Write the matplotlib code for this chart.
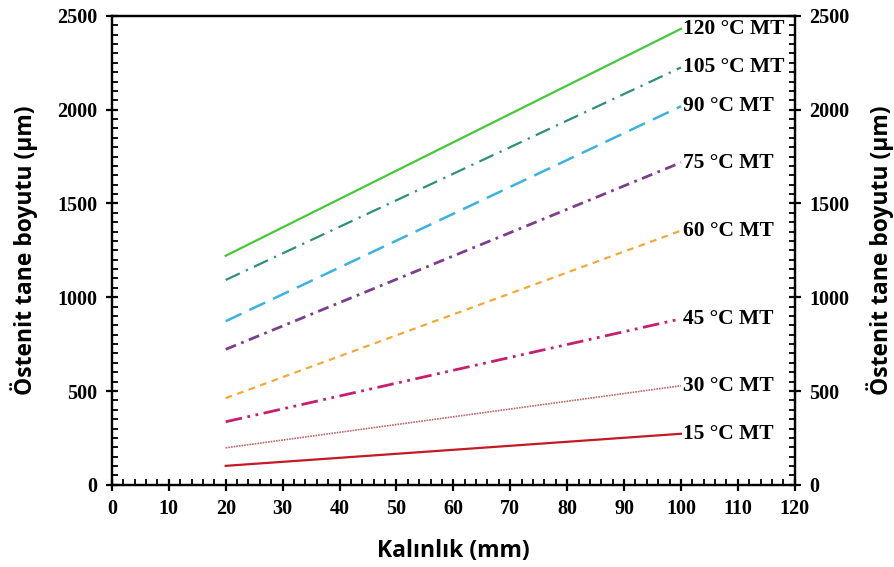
import matplotlib
matplotlib.use("agg")
import matplotlib.pyplot as plt
from matplotlib.ticker import MultipleLocator

# thickness (mm) and grain size (um) at both ends of each line
kalinlik = [20, 100]
etiketler = ["15 °C MT", "30 °C MT", "45 °C MT", "60 °C MT",
             "75 °C MT", "90 °C MT", "105 °C MT", "120 °C MT"]
baslangic = [101, 197, 336, 462, 722, 872, 1092, 1221]
bitis = [272, 528, 885, 1355, 1718, 2018, 2225, 2431]

renkler = ["#c41a25", "#b86a6a", "#c4206e", "#f2a93a",
           "#7b3f8c", "#3cb3dd", "#2f8f7a", "#44c93a"]
cizgiler = ["-", (0, (1, 0.6)), (0, (6, 2, 1, 2, 1, 2)), (0, (3, 2.5)),
            (0, (4, 2, 1, 2)), (0, (7, 3.5)), (0, (7, 3, 1, 3)), "-"]
kalin = [1.6, 1.2, 2.0, 1.6, 2.0, 1.8, 1.6, 1.6]

fig = plt.figure(figsize=(8.95, 5.67), dpi=100)
ax = fig.add_axes([0.125, 0.145, 0.763, 0.827])

for i in range(len(etiketler)):
    ax.plot(kalinlik, [baslangic[i], bitis[i]], color=renkler[i],
            linestyle=cizgiler[i], linewidth=kalin[i])
    ax.text(kalinlik[1] + 0.3, bitis[i], etiketler[i], fontsize=15.5,
            fontweight="bold", family="Liberation Serif", va="center", ha="left")

ax.set_xlim(0, 120)
ax.set_ylim(0, 2500)
ax.xaxis.set_major_locator(MultipleLocator(10))
ax.xaxis.set_minor_locator(MultipleLocator(2))
ax.yaxis.set_major_locator(MultipleLocator(500))
ax.yaxis.set_minor_locator(MultipleLocator(50))

ax2 = ax.twinx()
ax2.set_ylim(0, 2500)
ax2.yaxis.set_major_locator(MultipleLocator(500))
ax2.yaxis.set_minor_locator(MultipleLocator(50))

for a in (ax, ax2):
    for s in a.spines.values():
        s.set_linewidth(1.6)
    a.tick_params(which="major", direction="inout", length=9, width=1.6,
                  labelsize=14.5)
    a.tick_params(which="minor", direction="in", length=4.5, width=1.3)
    for lab in a.get_xticklabels() + a.get_yticklabels():
        lab.set_family("Liberation Serif")
        lab.set_fontweight("bold")
ax.tick_params(axis="x", pad=6)
ax.tick_params(axis="y", pad=6)
ax2.tick_params(axis="y", pad=6)

ax.set_xlabel("Kalınlık (mm)", fontsize=16.5, fontweight="bold", family="Open Sans", labelpad=14)
ax.set_ylabel("Östenit tane boyutu (µm)", fontsize=16.5, fontweight="bold", family="Open Sans", labelpad=14)
ax2.set_ylabel("Östenit tane boyutu (µm)", fontsize=16.5, fontweight="bold", family="Open Sans",
               rotation=90, labelpad=12)

plt.savefig("out.png", dpi=100)
plt.close()
